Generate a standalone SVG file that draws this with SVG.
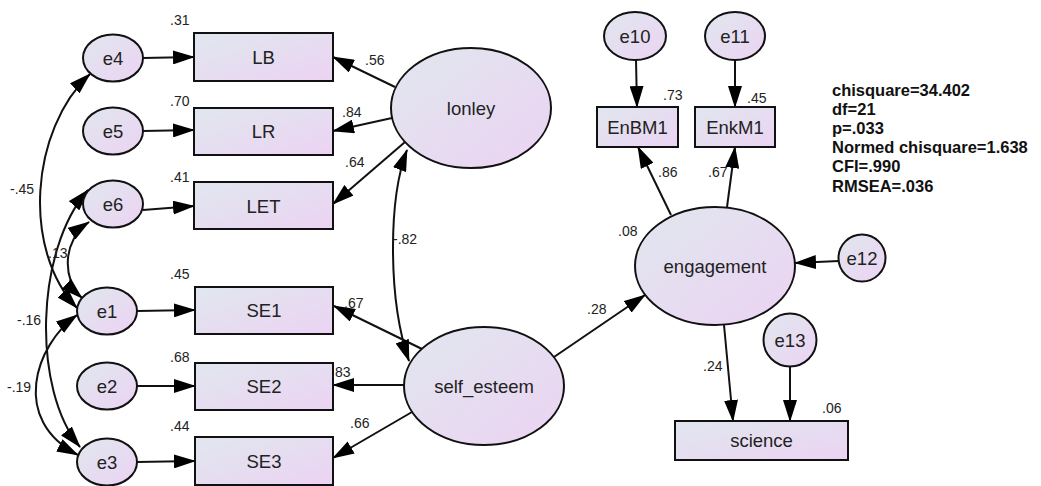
<svg xmlns="http://www.w3.org/2000/svg" width="1041" height="486" viewBox="0 0 1041 486">
<defs>
<linearGradient id="g" x1="0" y1="0" x2="1" y2="1">
<stop offset="0" stop-color="#e0e7ee"/>
<stop offset="1" stop-color="#ecd3f3"/>
</linearGradient>
<marker id="ah" markerUnits="userSpaceOnUse" markerWidth="22" markerHeight="14" viewBox="0 0 22 14" refX="21" refY="7" orient="auto-start-reverse">
<path d="M0,0 L22,7 L0,14 z" fill="#000"/>
</marker>
</defs>
<style>
.n{fill:url(#g);stroke:#111;stroke-width:2}
.t{font-family:"Liberation Sans",Arial,sans-serif;font-size:18.5px;fill:#222;text-anchor:middle;dominant-baseline:central}
.l{font-family:"Liberation Sans",Arial,sans-serif;font-size:14px;fill:#222}
.s{font-family:"Liberation Sans",Arial,sans-serif;font-size:16.5px;font-weight:bold;fill:#111}
.c path{fill:none;stroke:#111;stroke-width:2;marker-end:url(#ah)}
.c path.b{marker-start:url(#ah)}
</style>
<rect width="1041" height="486" fill="#fff"/>

<g class="c" id="connectors">
<path d="M143,58 L194,57"/>
<path d="M143,131 L194,130"/>
<path d="M143,210 L194,206"/>
<path d="M137,311 L195,310"/>
<path d="M137,386 L195,386"/>
<path d="M137,462 L195,461"/>
<path d="M395,87 L333,57"/>
<path d="M392,118 L333,131"/>
<path d="M405,142 L333,204"/>
<path d="M422,349 L334,306"/>
<path d="M404,385 L333,385"/>
<path d="M412,412 L333,458"/>
<path d="M554,357 L645,295"/>
<path d="M671,215 L638,147"/>
<path d="M727,207 L735,147"/>
<path d="M636,60 L637,107"/>
<path d="M735,60 L735,107"/>
<path d="M839,261 L795,263"/>
<path d="M724,325 L733,421"/>
<path d="M790,367 L790,421"/>
<path class="b" d="M407,150 C388,200 388,300 409,361"/>
<path class="b" d="M90,74 C30,130 22,250 77,308"/>
<path class="b" d="M88,190 C35,250 32,390 80,447"/>
<path class="b" d="M89,222 C62,240 62,280 82,298"/>
<path class="b" d="M77,315 C35,345 10,420 78,455"/>
</g>

<g id="e4"><ellipse class="n" cx="113" cy="58" rx="30" ry="23.5"/><text class="t" x="113" y="58">e4</text></g>
<g id="e5"><ellipse class="n" cx="113" cy="131" rx="30" ry="23.5"/><text class="t" x="113" y="131">e5</text></g>
<g id="e6"><ellipse class="n" cx="113" cy="204" rx="30" ry="23.5"/><text class="t" x="113" y="204">e6</text></g>
<g id="e1"><ellipse class="n" cx="107" cy="311" rx="30" ry="23.5"/><text class="t" x="107" y="311">e1</text></g>
<g id="e2"><ellipse class="n" cx="107" cy="386" rx="30" ry="23.5"/><text class="t" x="107" y="386">e2</text></g>
<g id="e3"><ellipse class="n" cx="107" cy="462" rx="30" ry="23.5"/><text class="t" x="107" y="462">e3</text></g>

<g id="LB"><rect class="n" x="194" y="33" width="139" height="48"/><text class="t" x="263.5" y="57">LB</text></g>
<g id="LR"><rect class="n" x="194" y="108" width="139" height="47"/><text class="t" x="263.5" y="131">LR</text></g>
<g id="LET"><rect class="n" x="194" y="182" width="139" height="47"/><text class="t" x="263.5" y="206">LET</text></g>
<g id="SE1"><rect class="n" x="195" y="287" width="138" height="47"/><text class="t" x="264" y="310">SE1</text></g>
<g id="SE2"><rect class="n" x="195" y="363" width="138" height="47"/><text class="t" x="264" y="386">SE2</text></g>
<g id="SE3"><rect class="n" x="195" y="437" width="138" height="48"/><text class="t" x="264" y="461">SE3</text></g>

<g id="lonley"><ellipse class="n" cx="471" cy="108" rx="80" ry="60"/><text class="t" x="471" y="108">lonley</text></g>
<g id="self_esteem"><ellipse class="n" cx="484" cy="386" rx="80" ry="59"/><text class="t" x="484" y="386">self_esteem</text></g>
<g id="engagement"><ellipse class="n" cx="715" cy="266" rx="80" ry="59"/><text class="t" x="715" y="266">engagement</text></g>

<g id="e10"><ellipse class="n" cx="635" cy="36" rx="31" ry="24"/><text class="t" x="635" y="36">e10</text></g>
<g id="e11"><ellipse class="n" cx="735" cy="36" rx="30" ry="24"/><text class="t" x="735" y="36">e11</text></g>
<g id="EnBM1"><rect class="n" x="597" y="107" width="81" height="40"/><text class="t" x="637.5" y="127">EnBM1</text></g>
<g id="EnkM1"><rect class="n" x="695" y="107" width="80" height="40"/><text class="t" x="735" y="127">EnkM1</text></g>
<g id="e12"><circle class="n" cx="862" cy="258" r="23.5"/><text class="t" x="862" y="258">e12</text></g>
<g id="e13"><circle class="n" cx="790" cy="340" r="26.5"/><text class="t" x="790" y="340">e13</text></g>
<g id="science"><rect class="n" x="675" y="421" width="173" height="39"/><text class="t" x="761.5" y="440">science</text></g>

<g id="labels">
<text class="l" x="170" y="25">.31</text>
<text class="l" x="170" y="106">.70</text>
<text class="l" x="170" y="182">.41</text>
<text class="l" x="170" y="279">.45</text>
<text class="l" x="170" y="362">.68</text>
<text class="l" x="170" y="431">.44</text>
<text class="l" x="365" y="65">.56</text>
<text class="l" x="342" y="117">.84</text>
<text class="l" x="345" y="167">.64</text>
<text class="l" x="393" y="244">-.82</text>
<text class="l" x="344" y="308">.67</text>
<text class="l" x="331" y="377">.83</text>
<text class="l" x="350" y="428">.66</text>
<text class="l" x="587" y="314">.28</text>
<text class="l" x="658" y="177">.86</text>
<text class="l" x="708" y="177">.67</text>
<text class="l" x="663" y="100">.73</text>
<text class="l" x="747" y="103">.45</text>
<text class="l" x="618" y="236">.08</text>
<text class="l" x="703" y="371">.24</text>
<text class="l" x="822" y="413">.06</text>
<text class="l" x="10" y="194">-.45</text>
<text class="l" x="48" y="258">.13</text>
<text class="l" x="17" y="325">-.16</text>
<text class="l" x="7" y="392">-.19</text>
</g>

<g id="fit">
<text class="s" x="832" y="96">chisquare=34.402</text>
<text class="s" x="832" y="115">df=21</text>
<text class="s" x="832" y="134">p=.033</text>
<text class="s" x="832" y="153">Normed chisquare=1.638</text>
<text class="s" x="832" y="172">CFI=.990</text>
<text class="s" x="832" y="192">RMSEA=.036</text>
</g>
</svg>
